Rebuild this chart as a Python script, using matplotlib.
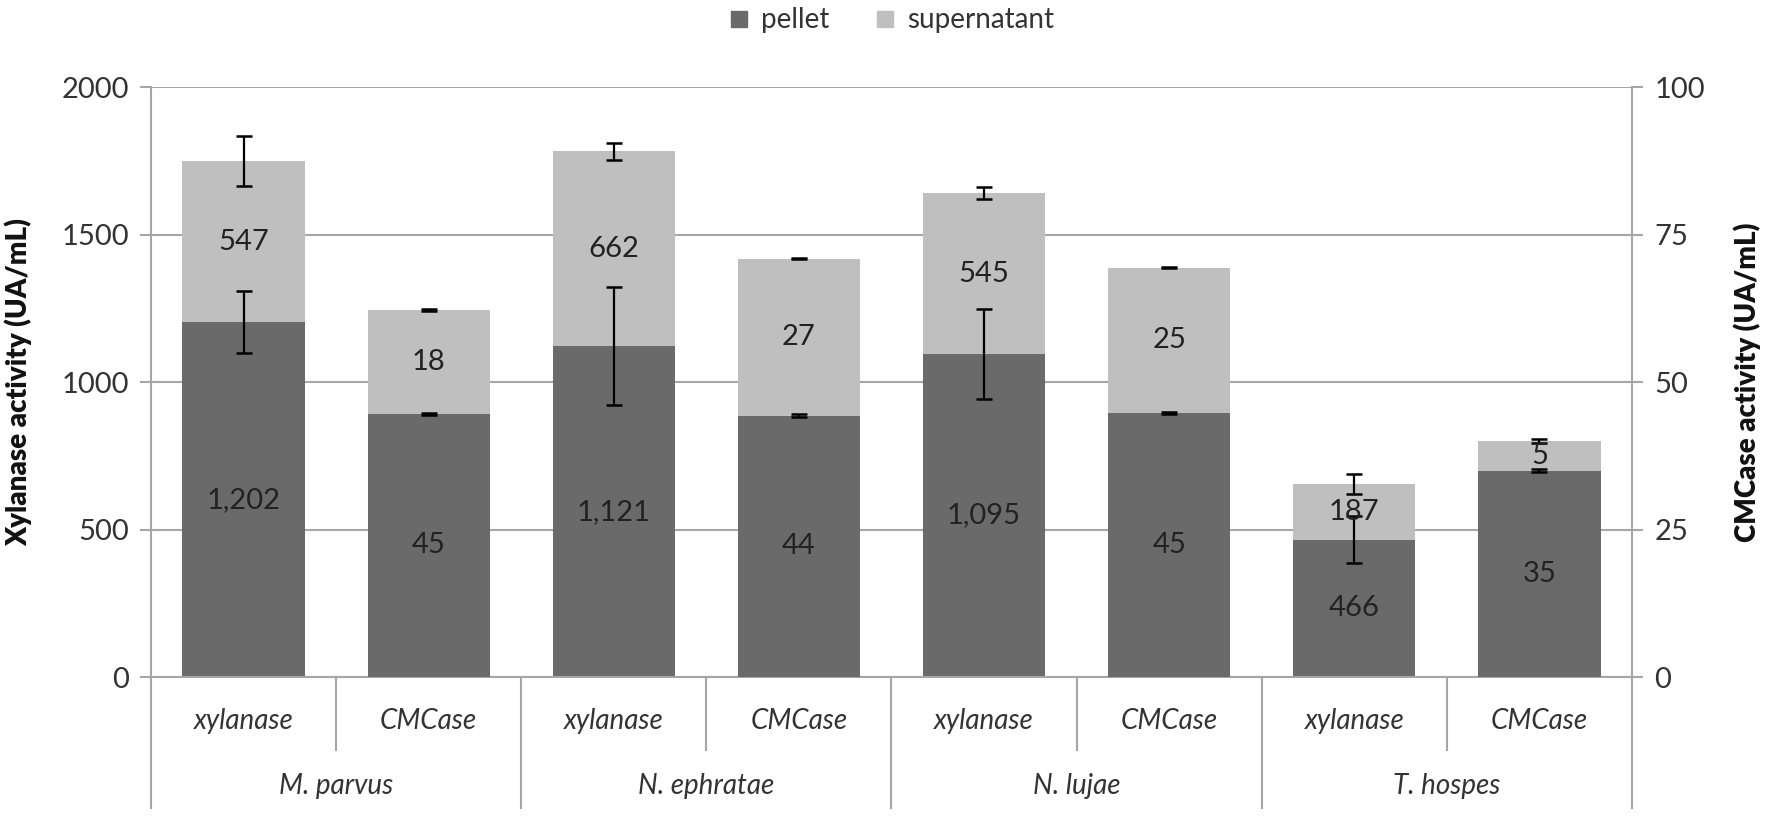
import matplotlib

matplotlib.use("Agg")
import matplotlib.pyplot as plt  # noqa: E402
from matplotlib.lines import Line2D  # noqa: E402

# data
species = ["M. parvus", "N. ephratae", "N. lujae", "T. hospes"]
enzymes = ["xylanase", "CMCase"]

xyl_pellet = [1202, 1121, 1095, 466]
xyl_super = [547, 662, 545, 187]
xyl_pellet_err = [105, 200, 152, 80]
xyl_super_err = [85, 29, 20, 34]

cmc_pellet = [44.6, 44.3, 44.8, 35.0]
cmc_super = [17.6, 26.6, 24.6, 5.0]
cmc_pellet_err = [0.2, 0.2, 0.2, 0.3]
cmc_super_err = [0.2, 0.1, 0.1, 0.3]

DARK = "#6a6a6a"
LIGHT = "#bfbfbf"
GRID = "#a6a6a6"
TXT = "#333333"

plt.rcParams["font.family"] = ["Lato", "DejaVu Sans"]

fig = plt.figure(figsize=(17.72, 8.16), dpi=100)
ax = fig.add_axes([0.0852, 0.1703, 0.8358, 0.723])
ax2 = ax.twinx()

x_xyl = [2 * i for i in range(len(species))]
x_cmc = [2 * i + 1 for i in range(len(species))]
width = 0.66

xyl_total = [p + s for p, s in zip(xyl_pellet, xyl_super)]
cmc_total = [p + s for p, s in zip(cmc_pellet, cmc_super)]

ax.bar(x_xyl, xyl_pellet, width=width, color=DARK, zorder=2)
ax.bar(x_xyl, xyl_super, width=width, bottom=xyl_pellet, color=LIGHT, zorder=2)
ax2.bar(x_cmc, cmc_pellet, width=width, color=DARK, zorder=2)
ax2.bar(x_cmc, cmc_super, width=width, bottom=cmc_pellet, color=LIGHT, zorder=2)

eb = dict(fmt="none", ecolor="black", elinewidth=1.6, capsize=6, capthick=1.8, zorder=4)
ax.errorbar(x_xyl, xyl_pellet, yerr=xyl_pellet_err, **eb)
ax.errorbar(x_xyl, xyl_total, yerr=xyl_super_err, **eb)
ax2.errorbar(x_cmc, cmc_pellet, yerr=cmc_pellet_err, **eb)
ax2.errorbar(x_cmc, cmc_total, yerr=cmc_super_err, **eb)

# value labels centred in each segment
for x, p, s in zip(x_xyl, xyl_pellet, xyl_super):
    ax.text(x, p / 2, f"{p:,}", ha="center", va="center", fontsize=21, color="#222222", zorder=5)
    ax.text(x, p + s / 2, f"{s:,}", ha="center", va="center", fontsize=21, color="#222222", zorder=5)
for x, p, s in zip(x_cmc, cmc_pellet, cmc_super):
    ax2.text(x, p / 2, f"{p:.0f}", ha="center", va="center", fontsize=21, color="#222222", zorder=5)
    ax2.text(x, p + s / 2, f"{s:.0f}", ha="center", va="center", fontsize=21, color="#222222", zorder=5)

ax.set_xlim(-0.5, 7.5)
ax.set_ylim(0, 2000)
ax2.set_ylim(0, 100)
ax.set_yticks(range(0, 2001, 500))
ax2.set_yticks(range(0, 101, 25))
ax.yaxis.grid(True, color=GRID, lw=1.5)
ax.set_axisbelow(True)
ax.set_xticks([])

for a in (ax, ax2):
    for sp in a.spines.values():
        sp.set_visible(False)
    a.tick_params(axis="y", length=8, width=1.5, color=GRID, labelsize=21,
                  labelcolor=TXT, pad=8)
ax.spines["left"].set_visible(True)
ax.spines["left"].set_color(GRID)
ax.spines["left"].set_linewidth(1.5)
ax.spines["bottom"].set_visible(True)
ax.spines["bottom"].set_color(GRID)
ax.spines["bottom"].set_linewidth(1.5)
ax2.spines["right"].set_visible(True)
ax2.spines["right"].set_color(GRID)
ax2.spines["right"].set_linewidth(1.5)

# two-level category axis
tr = ax.get_xaxis_transform()
for i, sp_name in enumerate(species):
    for j, enz in enumerate(enzymes):
        ax.text(2 * i + j, -0.075, enz, transform=tr, ha="center", va="center",
                fontsize=20, style="italic", color=TXT)
    ax.text(2 * i + 0.5, -0.185, sp_name, transform=tr, ha="center", va="center",
            fontsize=20, style="italic", color=TXT)
    ax.plot([2 * i + 0.5] * 2, [0, -0.124], transform=tr, color=GRID, lw=1.5, clip_on=False)
for xb in [-0.5, 1.5, 3.5, 5.5, 7.5]:
    ax.plot([xb, xb], [0, -0.222], transform=tr, color=GRID, lw=1.5, clip_on=False)

fig.text(0.0105, 0.532, "Xylanase activity (UA/mL)", rotation=90, ha="center", va="center",
         fontsize=20, fontweight="heavy", color="#111111")
fig.text(0.986, 0.532, "CMCase activity (UA/mL)", rotation=90, ha="center", va="center",
         fontsize=20, fontweight="heavy", color="#111111")

handles = [
    Line2D([], [], ls="none", marker="s", markersize=11, markerfacecolor=DARK, markeredgecolor=DARK),
    Line2D([], [], ls="none", marker="s", markersize=11, markerfacecolor=LIGHT, markeredgecolor=LIGHT),
]
fig.legend(handles, ["pellet", "supernatant"], loc="center", bbox_to_anchor=(0.503, 0.975),
           ncol=2, frameon=False, fontsize=20, handlelength=0.8, handletextpad=0.4,
           columnspacing=1.6, labelcolor=TXT)

fig.savefig("out.png", dpi=100)
